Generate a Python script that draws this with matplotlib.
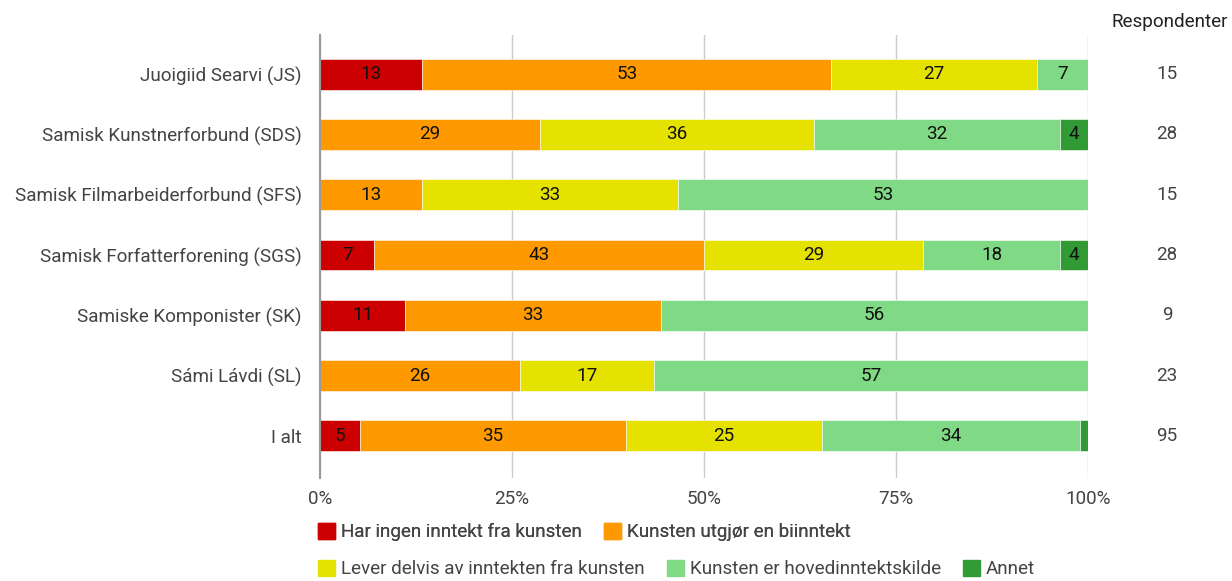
import matplotlib.pyplot as plt
import numpy as np
from matplotlib.patches import Patch

plt.rcParams["font.family"] = ["Roboto", "DejaVu Sans"]

groups = ["Juoigiid Searvi (JS)", "Samisk Kunstnerforbund (SDS)", "Samisk Filmarbeiderforbund (SFS)",
          "Samisk Forfatterforening (SGS)", "Samiske Komponister (SK)", "Sámi Lávdi (SL)", "I alt"]
respondents = [15, 28, 15, 28, 9, 23, 95]

categories = ["Har ingen inntekt fra kunsten", "Kunsten utgjør en biinntekt",
              "Lever delvis av inntekten fra kunsten", "Kunsten er hovedinntektskilde", "Annet"]
colors = ["#cc0000", "#ff9900", "#e6e200", "#80d985", "#329a35"]

# shares in percent
no_income = [13.3, 0, 0, 7.1, 11.1, 0, 5.2]
side_income = [53.3, 28.6, 13.3, 42.9, 33.3, 26.1, 34.7]
partly = [26.7, 35.7, 33.3, 28.6, 0, 17.4, 25.4]
main_income = [6.7, 32.1, 53.3, 17.9, 55.6, 56.5, 33.7]
other = [0, 3.6, 0, 3.6, 0, 0, 1.0]

xticks = [0, 25, 50, 75, 100]
xticklabels = ["0%", "25%", "50%", "75%", "100%"]

FS = 13.6


def draw():
    series = np.array([no_income, side_income, partly, main_income, other], dtype=float)
    shares = series / series.sum(axis=0) * 100

    fig = plt.figure(figsize=(12.32, 5.81), dpi=100)
    ax = fig.add_axes([320 / 1232, 1 - 478 / 581, 768 / 1232, 443 / 581])
    y = np.arange(len(groups))
    left = np.zeros(len(groups))
    for i in range(len(categories)):
        bars = ax.barh(y, shares[i], left=left, height=0.51, color=colors[i],
                       edgecolor="white", linewidth=0.4, zorder=3)
        labels = [str(int(v + 0.5)) if v >= 2 else "" for v in series[i]]
        ax.bar_label(bars, labels=labels, label_type="center", fontsize=FS, color="#111111")
        left += shares[i]

    ax.set_xlim(0, 100)
    ax.set_ylim(6.7, -0.65)
    ax.set_yticks(y, groups, fontsize=FS, color="#444444")
    ax.set_xticks(xticks, xticklabels, fontsize=FS, color="#444444")
    ax.tick_params(length=0)
    ax.tick_params(axis="y", pad=13)
    ax.tick_params(axis="x", pad=9)
    ax.grid(axis="x", color="#cccccc", linewidth=1, zorder=0)
    for s in ["top", "right", "bottom"]:
        ax.spines[s].set_visible(False)
    ax.spines["left"].set_color("#999999")
    ax.spines["left"].set_linewidth(1.5)
    ax.spines["left"].set_zorder(4)

    fig.text(1170 / 1232, 1 - 22 / 581, "Respondenter", fontsize=FS, color="#222222",
             ha="center", va="center")
    for i, r in enumerate(respondents):
        yp = ax.transData.transform((0, i))[1]
        fig.text(1167 / 1232, yp / fig.bbox.height, str(r), fontsize=FS, color="#444444",
                 ha="center", va="center")

    handles = [Patch(facecolor=c, edgecolor=c) for c in colors]
    kw = dict(frameon=False, fontsize=FS, handlelength=0.9, handleheight=0.9,
              handletextpad=0.3, columnspacing=1.2, borderpad=0, borderaxespad=0,
              loc="center left", labelcolor="#444444")
    leg1 = fig.legend(handles[:2], categories[:2], ncol=2,
                      bbox_to_anchor=(318 / 1232, 1 - 532 / 581), **kw)
    fig.legend(handles[2:], categories[2:], ncol=3,
               bbox_to_anchor=(318 / 1232, 1 - 569 / 581), **kw)
    fig.add_artist(leg1)

    fig.savefig("out.png", dpi=100)


if __name__ == "__main__":
    draw()
